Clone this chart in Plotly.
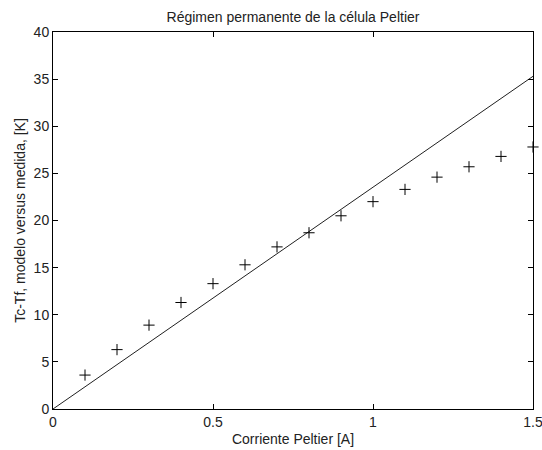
import plotly.graph_objects as go

model_x = [0.0, 1.5]
model_y = [0.0, 35.3]
meas_x = [0.1, 0.2, 0.3, 0.4, 0.5, 0.6, 0.7, 0.8, 0.9, 1.0, 1.1, 1.2, 1.3, 1.4, 1.5]
meas_y = [3.6, 6.3, 8.9, 11.3, 13.3, 15.3, 17.2, 18.7, 20.5, 22.0, 23.3, 24.6, 25.7, 26.8, 27.8]
x_ticks = [0, 0.5, 1, 1.5]
x_tick_text = ["0", "0.5", "1", "1.5"]
y_ticks = [0, 5, 10, 15, 20, 25, 30, 35, 40]

font = "Liberation Sans, Arial, Helvetica, sans-serif"
fs = 14

fig = go.Figure()
fig.add_trace(go.Scatter(x=model_x, y=model_y, mode="lines",
                         line=dict(color="#202020", width=1), cliponaxis=False))
fig.add_trace(go.Scatter(x=meas_x, y=meas_y, mode="markers",
                         marker=dict(symbol="cross-thin-open", size=8, color="black",
                                     line=dict(color="black", width=1)),
                         cliponaxis=False))

axis_common = dict(showgrid=False, zeroline=False, showline=True, linecolor="black",
                   linewidth=1, mirror="ticks", ticks="inside", ticklen=5,
                   tickcolor="black", tickwidth=1, automargin=False,
                   ticklabeloverflow="allow",
                   tickfont=dict(family=font, size=fs, color="#222222"))

fig.update_layout(
    width=542, height=450,
    margin=dict(l=53, r=9, t=32, b=41, autoexpand=False),
    paper_bgcolor="white", plot_bgcolor="white",
    showlegend=False,
    title=dict(text="Régimen permanente de la célula Peltier", x=0.5, xanchor="center",
               xref="paper", y=1 - 17 / 450, yanchor="middle",
               font=dict(family=font, size=fs, color="#222222")),
    xaxis=dict(range=[0, 1.5], tickvals=x_ticks, ticktext=x_tick_text,
               title=dict(text="Corriente Peltier [A]", standoff=5,
                          font=dict(family=font, size=fs, color="#222222")),
               **axis_common),
    yaxis=dict(range=[0, 40], tickvals=y_ticks,
               title=dict(text="Tc-Tf, modelo versus medida, [K]", standoff=4,
                          font=dict(family=font, size=fs, color="#222222")),
               **axis_common),
)

fig.write_html("out.html", config={"displayModeBar": False},
               post_script="document.body.style.margin='0';")
